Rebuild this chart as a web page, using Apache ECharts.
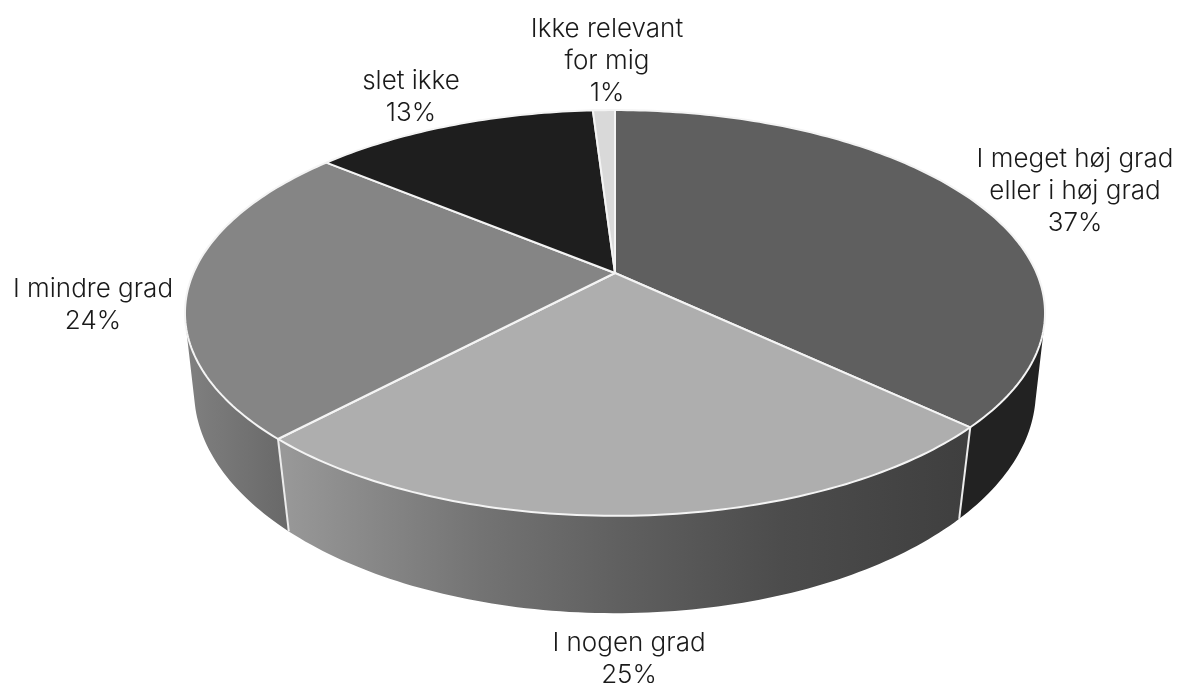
<!DOCTYPE html>
<html>
<head>
<meta charset="utf-8">
<style>
  html, body { margin: 0; padding: 0; background: #fff; }
  #chart { width: 1179px; height: 683px; }
</style>
<script src="https://cdn.jsdelivr.net/npm/echarts@6/dist/echarts.min.js"></script>
</head>
<body>
<div id="chart"></div>
<script>
// Survey answers, clockwise from twelve o'clock.
const categories = ['I meget høj grad\neller i høj grad', 'I nogen grad', 'I mindre grad', 'slet ikke', 'Ikke relevant\nfor mig'];
const shares = [37, 25, 24, 13, 1];

const topColors = ['#5f5f5f', '#aeaeae', '#858585', '#1e1e1e', '#d9d9d9'];
const wallStops = [
  [[0, '#2b2b2b'], [1, '#222222']],
  [[0, '#989898'], [0.29, '#737373'], [0.5, '#5f5f5f'], [0.73, '#4c4c4c'], [1, '#3f3f3f']],
  [[0, '#7f7f7f'], [1, '#696969']],
  [[0, '#1a1a1a'], [1, '#1a1a1a']],
  [[0, '#bbbbbb'], [1, '#bbbbbb']]
];
const labelCentres = [[1075, 191], [629, 659], [93, 305], [411, 97], [607, 61]];

// Perspective disc: the far edge shrinks, the near edge grows.
const topDisc = { cx: 615, cy: 273, rx: 421.6, ry: 195, k: 0.197 };
const lowerDisc = { cx: 615, cy: 351, rx: 414, ry: 215, k: 0.18 };

const total = shares.reduce((a, b) => a + b, 0);
const starts = shares.map((_, i) => shares.slice(0, i).reduce((a, b) => a + b, 0));
const toAngle = (v) => (v / total) * Math.PI * 2;

function project(disc, angle) {
  const depth = -Math.cos(angle);
  const w = 1 - disc.k * depth;
  return [disc.cx + disc.rx * Math.sin(angle) / w, disc.cy + disc.ry * depth / w];
}

function arcAngles(i) {
  const a0 = toAngle(starts[i]);
  const a1 = toAngle(starts[i] + shares[i]);
  const n = Math.max(2, Math.ceil((a1 - a0) / (Math.PI / 180)));
  return Array.from({ length: n + 1 }, (_, s) => a0 + (a1 - a0) * s / n);
}

// One quad per angular step, all wound the same way, so the sweep fills the silhouette.
function wallPath(i) {
  const angles = arcAngles(i);
  let d = '';
  for (let s = 0; s < angles.length - 1; s++) {
    let q = [project(topDisc, angles[s]), project(topDisc, angles[s + 1]),
             project(lowerDisc, angles[s + 1]), project(lowerDisc, angles[s])];
    let area = 0;
    q.forEach((p, j) => { const o = q[(j + 1) % 4]; area += p[0] * o[1] - o[0] * p[1]; });
    if (area < 0) q = q.reverse();
    d += 'M' + q.map((p) => p[0].toFixed(2) + ' ' + p[1].toFixed(2)).join('L') + 'Z';
  }
  return d;
}

function renderWall(params, api) {
  const i = api.value(0);
  const children = [{
    type: 'path',
    shape: { pathData: wallPath(i) },
    style: {
      fill: new echarts.graphic.LinearGradient(
        i === 2 ? 190 : 285, 0, i === 2 ? 285 : 965, 0,
        wallStops[i].map((s) => ({ offset: s[0], color: s[1] })), true),
      stroke: null
    }
  }];
  const end = toAngle(starts[i] + shares[i]);
  if (Math.cos(end) < 0) {
    const a = project(topDisc, end);
    const b = project(lowerDisc, end);
    children.push({
      type: 'line', z2: 5,
      shape: { x1: a[0], y1: a[1], x2: b[0], y2: b[1] },
      style: { stroke: '#ececec', lineWidth: 2 }
    });
  }
  return { type: 'group', children };
}

function renderTop(params, api) {
  const i = api.value(0);
  const rim = arcAngles(i).map((a) => project(topDisc, a));
  return {
    type: 'group',
    children: [{
      type: 'polygon',
      shape: { points: [[topDisc.cx, topDisc.cy]].concat(rim) },
      style: { fill: topColors[i], stroke: '#f4f4f4', lineWidth: 2, lineJoin: 'round' }
    }, {
      type: 'text', z2: 10,
      style: {
        text: categories[i] + '\n' + api.value(1) + '%',
        x: labelCentres[i][0], y: labelCentres[i][1],
        align: 'center', verticalAlign: 'middle',
        fontFamily: 'Inter', fontWeight: 300, fontSize: 26, lineHeight: 32, fill: '#1a1a1a'
      }
    }]
  };
}

const rows = shares.map((v, i) => [i, v]);
const chart = echarts.init(document.getElementById('chart'), null, { renderer: 'canvas' });
chart.setOption({
  animation: false,
  backgroundColor: '#ffffff',
  series: [
    { type: 'custom', coordinateSystem: 'none', silent: true, z: 1, renderItem: renderWall, data: rows },
    { type: 'custom', coordinateSystem: 'none', silent: true, z: 2, renderItem: renderTop, data: rows }
  ]
});
</script>
</body>
</html>
